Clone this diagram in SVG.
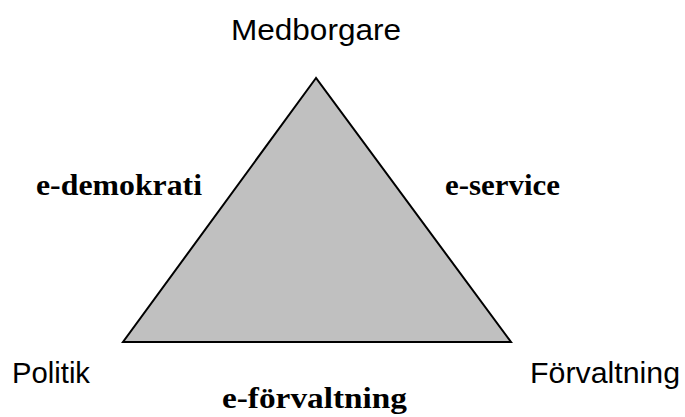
<svg xmlns="http://www.w3.org/2000/svg" width="685" height="417" viewBox="0 0 685 417">
<style>
.n{font-family:"Liberation Sans",Arial,sans-serif;font-size:30px;fill:#000}
.e{font-family:"Liberation Serif","Times New Roman",serif;font-size:30px;font-weight:bold;fill:#000}
</style>
<rect width="685" height="417" fill="#fff"/>
<g id="triangle">
<polygon points="316,78 123,342 511,342" fill="#c0c0c0" stroke="#000" stroke-width="2" stroke-linejoin="miter"/>
</g>
<g id="connectors"></g>
<g id="medborgare"><text class="n" x="231" y="40" textLength="170" lengthAdjust="spacingAndGlyphs">Medborgare</text></g>
<g id="politik"><text class="n" x="12" y="383" textLength="78" lengthAdjust="spacingAndGlyphs">Politik</text></g>
<g id="forvaltning"><text class="n" x="530" y="383" textLength="150" lengthAdjust="spacingAndGlyphs">Förvaltning</text></g>
<g id="e-demokrati"><text class="e" x="36" y="195" textLength="166" lengthAdjust="spacingAndGlyphs">e-demokrati</text></g>
<g id="e-service"><text class="e" x="445" y="195" textLength="115" lengthAdjust="spacingAndGlyphs">e-service</text></g>
<g id="e-forvaltning"><text class="e" x="222" y="408" textLength="185" lengthAdjust="spacingAndGlyphs">e-förvaltning</text></g>
</svg>
